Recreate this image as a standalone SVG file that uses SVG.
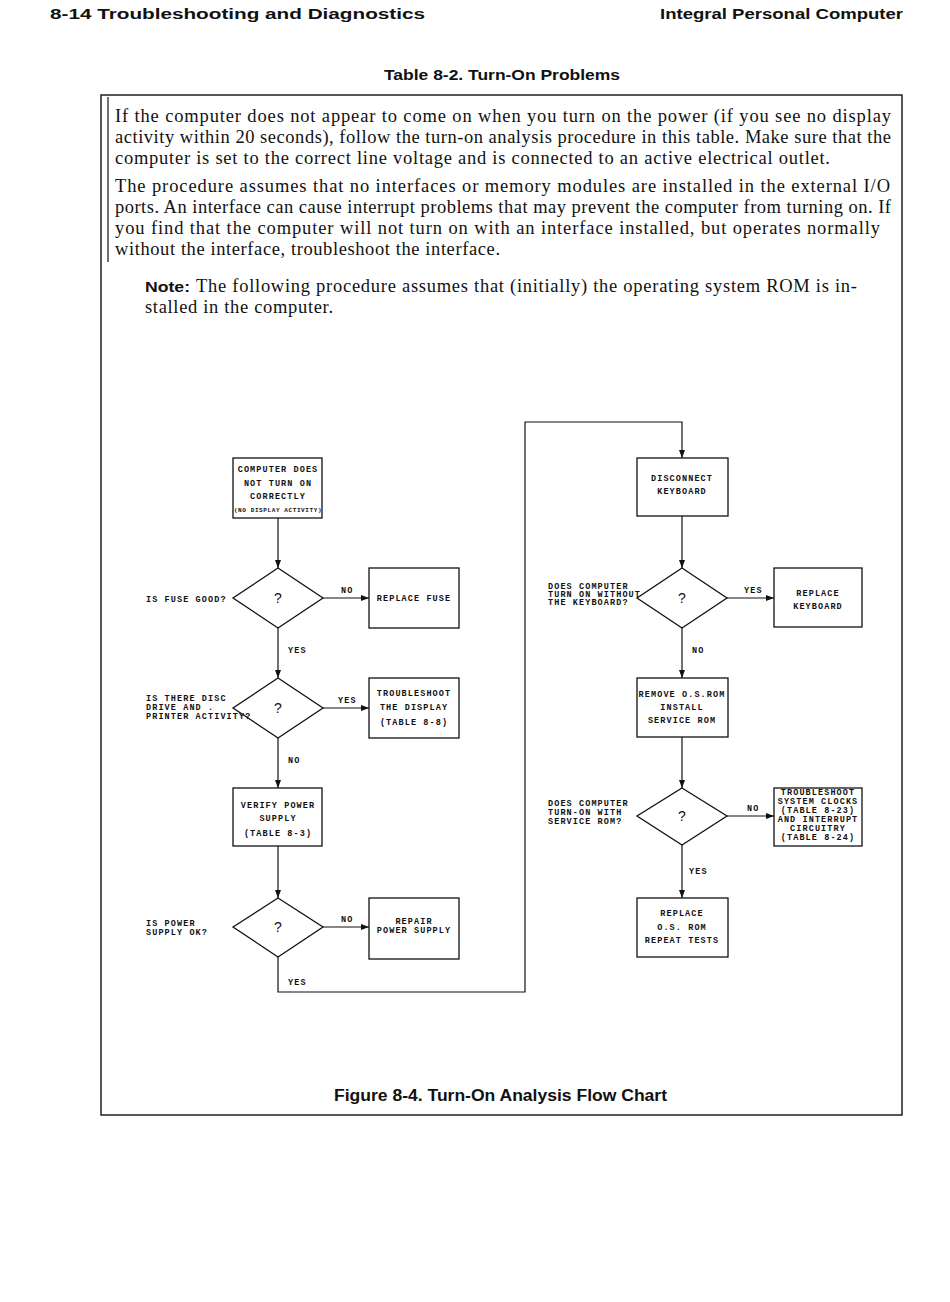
<svg xmlns="http://www.w3.org/2000/svg" width="950" height="1302" viewBox="0 0 950 1302">
<defs>
<marker id="arr" markerWidth="8" markerHeight="6" refX="8" refY="3" orient="auto" markerUnits="userSpaceOnUse">
<path d="M0,0 L8,3 L0,6 z" fill="#111"/>
</marker>
<style>
.hd{font-family:"Liberation Sans",Arial,sans-serif;font-weight:900;fill:#111}
.body{font-family:"Liberation Serif","Times New Roman",serif;font-size:18.5px;fill:#111}
.fc{font-family:"Liberation Mono","Courier New",monospace;font-weight:bold;font-size:8.5px;letter-spacing:1.1px;fill:#111}
.sm{font-size:6px;letter-spacing:0.6px}
.q{font-family:"Liberation Sans",Arial,sans-serif;font-size:14px;fill:#111}
.box{fill:#fff;stroke:#111;stroke-width:1.3}
.ln{fill:none;stroke:#111;stroke-width:1.2}
.frame{fill:none;stroke:#111;stroke-width:1.4}
</style>
</defs>
<rect x="0" y="0" width="950" height="1302" fill="#fff"/>

<g id="header">
<text class="hd" x="50" y="19" font-size="14" textLength="375" lengthAdjust="spacingAndGlyphs">8-14  Troubleshooting and Diagnostics</text>
<text class="hd" x="660" y="19" font-size="14" textLength="243" lengthAdjust="spacingAndGlyphs">Integral Personal Computer</text>
<text class="hd" x="384" y="80" font-size="15" textLength="236" lengthAdjust="spacingAndGlyphs">Table 8-2. Turn-On Problems</text>
</g>

<g id="frame">
<rect class="frame" x="101" y="95" width="801" height="1020"/>
<line class="ln" x1="108" y1="97" x2="108" y2="262" stroke-width="0.8"/>
</g>

<g id="paragraphs">
<text class="body" x="115" y="122" textLength="776" lengthAdjust="spacing">If the computer does not appear to come on when you turn on the power (if you see no display</text>
<text class="body" x="115" y="143" textLength="776" lengthAdjust="spacing">activity within 20 seconds), follow the turn-on analysis procedure in this table. Make sure that the</text>
<text class="body" x="115" y="164" textLength="715" lengthAdjust="spacing">computer is set to the correct line voltage and is connected to an active electrical outlet.</text>
<text class="body" x="115" y="192" textLength="775" lengthAdjust="spacing">The procedure assumes that no interfaces or memory modules are installed in the external I/O</text>
<text class="body" x="115" y="213" textLength="776" lengthAdjust="spacing">ports. An interface can cause interrupt problems that may prevent the computer from turning on. If</text>
<text class="body" x="115" y="234" textLength="765" lengthAdjust="spacing">you find that the computer will not turn on with an interface installed, but operates normally</text>
<text class="body" x="115" y="255" textLength="385" lengthAdjust="spacing">without the interface, troubleshoot the interface.</text>
<text class="hd" x="145" y="292" font-size="15" textLength="45" lengthAdjust="spacingAndGlyphs">Note:</text>
<text class="body" x="196" y="292" textLength="661" lengthAdjust="spacing">The following procedure assumes that (initially) the operating system ROM is in-</text>
<text class="body" x="145" y="313" textLength="188" lengthAdjust="spacing">stalled in the computer.</text>
</g>

<g id="connectors">
<line class="ln" x1="278" y1="518" x2="278" y2="568" marker-end="url(#arr)"/>
<line class="ln" x1="323" y1="598" x2="369" y2="598" marker-end="url(#arr)"/>
<line class="ln" x1="278" y1="628" x2="278" y2="678" marker-end="url(#arr)"/>
<line class="ln" x1="323" y1="708" x2="369" y2="708" marker-end="url(#arr)"/>
<line class="ln" x1="278" y1="738" x2="278" y2="788" marker-end="url(#arr)"/>
<line class="ln" x1="278" y1="846" x2="278" y2="898" marker-end="url(#arr)"/>
<line class="ln" x1="323" y1="927" x2="369" y2="927" marker-end="url(#arr)"/>
<polyline class="ln" points="278,957 278,992 525,992 525,422 682,422 682,458" marker-end="url(#arr)"/>
<line class="ln" x1="682" y1="516" x2="682" y2="568" marker-end="url(#arr)"/>
<line class="ln" x1="727" y1="598" x2="774" y2="598" marker-end="url(#arr)"/>
<line class="ln" x1="682" y1="628" x2="682" y2="678" marker-end="url(#arr)"/>
<line class="ln" x1="682" y1="737" x2="682" y2="788" marker-end="url(#arr)"/>
<line class="ln" x1="727" y1="816" x2="774" y2="816" marker-end="url(#arr)"/>
<line class="ln" x1="682" y1="845" x2="682" y2="898" marker-end="url(#arr)"/>
<text class="fc" x="341" y="593">NO</text>
<text class="fc" x="288" y="653">YES</text>
<text class="fc" x="338" y="703">YES</text>
<text class="fc" x="288" y="763">NO</text>
<text class="fc" x="341" y="922">NO</text>
<text class="fc" x="288" y="985">YES</text>
<text class="fc" x="744" y="593">YES</text>
<text class="fc" x="692" y="653">NO</text>
<text class="fc" x="747" y="811">NO</text>
<text class="fc" x="689" y="874">YES</text>
</g>

<g id="n-start">
<rect class="box" x="233" y="458" width="89" height="60"/>
<text class="fc" x="278" y="472" text-anchor="middle">COMPUTER DOES</text>
<text class="fc" x="278" y="486" text-anchor="middle">NOT TURN ON</text>
<text class="fc" x="278" y="499" text-anchor="middle">CORRECTLY</text>
<text class="fc sm" x="278" y="512" text-anchor="middle">(NO DISPLAY ACTIVITY)</text>
</g>

<g id="d-fuse">
<polygon class="box" points="278,568 323,598 278,628 233,598"/>
<text class="q" x="278" y="603" text-anchor="middle">?</text>
<text class="fc" x="146" y="602">IS FUSE GOOD?</text>
</g>

<g id="n-replace-fuse">
<rect class="box" x="369" y="568" width="90" height="60"/>
<text class="fc" x="414" y="601" text-anchor="middle">REPLACE FUSE</text>
</g>

<g id="d-activity">
<polygon class="box" points="278,678 323,708 278,738 233,708"/>
<text class="q" x="278" y="713" text-anchor="middle">?</text>
<text class="fc" x="146" y="701">IS THERE DISC</text>
<text class="fc" x="146" y="710">DRIVE AND .</text>
<text class="fc" x="146" y="719">PRINTER ACTIVITY?</text>
</g>

<g id="n-display">
<rect class="box" x="369" y="678" width="90" height="60"/>
<text class="fc" x="414" y="696" text-anchor="middle">TROUBLESHOOT</text>
<text class="fc" x="414" y="710" text-anchor="middle">THE DISPLAY</text>
<text class="fc" x="414" y="725" text-anchor="middle">(TABLE 8-8)</text>
</g>

<g id="n-verify">
<rect class="box" x="233" y="788" width="89" height="58"/>
<text class="fc" x="278" y="808" text-anchor="middle">VERIFY POWER</text>
<text class="fc" x="278" y="821" text-anchor="middle">SUPPLY</text>
<text class="fc" x="278" y="836" text-anchor="middle">(TABLE 8-3)</text>
</g>

<g id="d-power">
<polygon class="box" points="278,898 323,927 278,957 233,927"/>
<text class="q" x="278" y="932" text-anchor="middle">?</text>
<text class="fc" x="146" y="926">IS POWER</text>
<text class="fc" x="146" y="935">SUPPLY OK?</text>
</g>

<g id="n-repair">
<rect class="box" x="369" y="898" width="90" height="61"/>
<text class="fc" x="414" y="924" text-anchor="middle">REPAIR</text>
<text class="fc" x="414" y="933" text-anchor="middle">POWER SUPPLY</text>
</g>

<g id="n-disconnect">
<rect class="box" x="637" y="458" width="91" height="58"/>
<text class="fc" x="682" y="481" text-anchor="middle">DISCONNECT</text>
<text class="fc" x="682" y="494" text-anchor="middle">KEYBOARD</text>
</g>

<g id="d-keyboard">
<polygon class="box" points="682,568 727,598 682,628 637,598"/>
<text class="q" x="682" y="603" text-anchor="middle">?</text>
<text class="fc" x="548" y="589">DOES COMPUTER</text>
<text class="fc" x="548" y="597">TURN ON WITHOUT</text>
<text class="fc" x="548" y="605">THE KEYBOARD?</text>
</g>

<g id="n-replace-keyboard">
<rect class="box" x="774" y="568" width="88" height="59"/>
<text class="fc" x="818" y="596" text-anchor="middle">REPLACE</text>
<text class="fc" x="818" y="609" text-anchor="middle">KEYBOARD</text>
</g>

<g id="n-remove-rom">
<rect class="box" x="637" y="678" width="91" height="59"/>
<text class="fc" x="682" y="697" text-anchor="middle">REMOVE O.S.ROM</text>
<text class="fc" x="682" y="710" text-anchor="middle">INSTALL</text>
<text class="fc" x="682" y="723" text-anchor="middle">SERVICE ROM</text>
</g>

<g id="d-service">
<polygon class="box" points="682,788 727,816 682,845 637,816"/>
<text class="q" x="682" y="821" text-anchor="middle">?</text>
<text class="fc" x="548" y="806">DOES COMPUTER</text>
<text class="fc" x="548" y="815">TURN-ON WITH</text>
<text class="fc" x="548" y="824">SERVICE ROM?</text>
</g>

<g id="n-clocks">
<rect class="box" x="774" y="788" width="88" height="58"/>
<text class="fc" x="818" y="795" text-anchor="middle" letter-spacing="0.6">TROUBLESHOOT</text>
<text class="fc" x="818" y="804" text-anchor="middle" letter-spacing="0.6">SYSTEM CLOCKS</text>
<text class="fc" x="818" y="813" text-anchor="middle" letter-spacing="0.6">(TABLE 8-23)</text>
<text class="fc" x="818" y="822" text-anchor="middle" letter-spacing="0.6">AND INTERRUPT</text>
<text class="fc" x="818" y="831" text-anchor="middle" letter-spacing="0.6">CIRCUITRY</text>
<text class="fc" x="818" y="840" text-anchor="middle" letter-spacing="0.6">(TABLE 8-24)</text>
</g>

<g id="n-replace-rom">
<rect class="box" x="637" y="898" width="91" height="59"/>
<text class="fc" x="682" y="916" text-anchor="middle">REPLACE</text>
<text class="fc" x="682" y="930" text-anchor="middle">O.S. ROM</text>
<text class="fc" x="682" y="943" text-anchor="middle">REPEAT TESTS</text>
</g>

<g id="caption">
<text class="hd" x="334" y="1101" font-size="16" textLength="333" lengthAdjust="spacingAndGlyphs">Figure 8-4. Turn-On Analysis Flow Chart</text>
</g>
</svg>
